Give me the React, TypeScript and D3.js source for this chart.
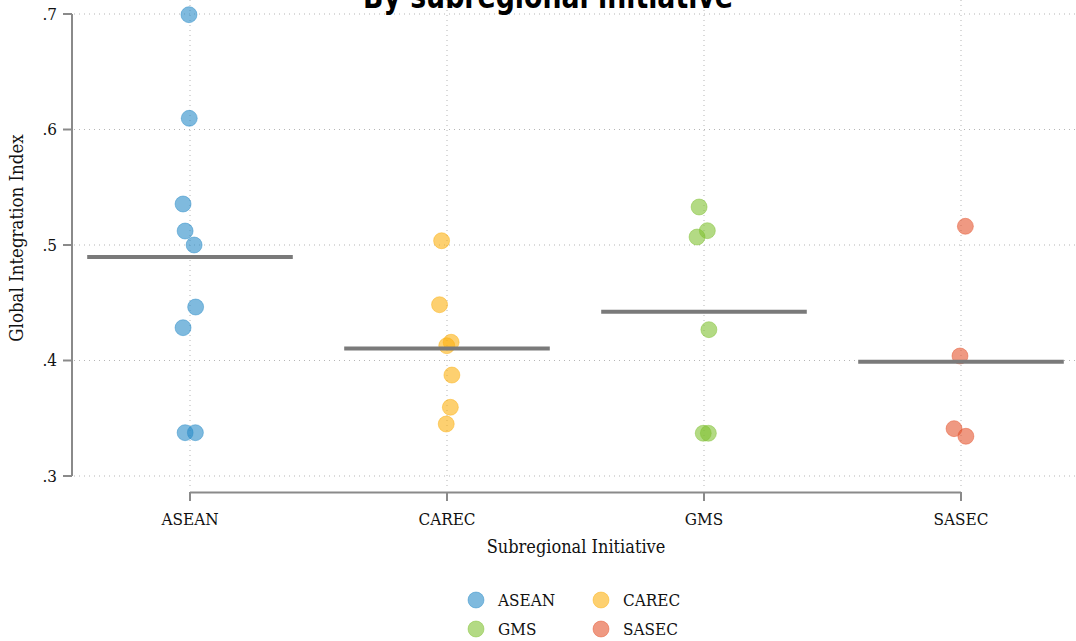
import React from "react";
import * as d3 from "d3";

const categories = ["ASEAN", "CAREC", "GMS", "SASEC"];
const colors = ["#2a8cc8", "#fbb010", "#80c232", "#e4552e"];

const aseanValues = [0.6994, 0.6097, 0.5355, 0.5121, 0.5, 0.4463, 0.4284, 0.3375, 0.3375];
const aseanJitter = [-0.004, -0.003, -0.027, -0.019, 0.016, 0.022, -0.027, -0.019, 0.021];
const carecValues = [0.5037, 0.4483, 0.4158, 0.4128, 0.3874, 0.3595, 0.345];
const carecJitter = [-0.021, -0.029, 0.016, -0.001, 0.019, 0.013, -0.003];
const gmsValues = [0.5329, 0.5124, 0.5069, 0.4267, 0.337, 0.337];
const gmsJitter = [-0.019, 0.013, -0.027, 0.019, -0.003, 0.017];
const sasecValues = [0.5162, 0.4039, 0.341, 0.3344];
const sasecJitter = [0.017, -0.004, -0.027, 0.019];

const yTicks = [0.3, 0.4, 0.5, 0.6, 0.7];

const seriesValues = [aseanValues, carecValues, gmsValues, sasecValues];
const seriesJitter = [aseanJitter, carecJitter, gmsJitter, sasecJitter];

const W = 1076;
const H = 641;
const serif = "'DejaVu Serif Condensed', 'DejaVu Serif', serif";

export default function App() {
  const x = d3.scalePoint<string>().domain(categories).range([190, 961]).padding(0);
  const step = x.step();
  const y = d3.scaleLinear().domain([0.3, 0.7]).range([476, 14]);
  const plotLeft = 72;
  const fmt = (v: number) => d3.format(".1f")(v).replace(/^0/, "");

  const legendPos = [
    { cx: 476, cy: 600 },
    { cx: 601, cy: 600 },
    { cx: 476, cy: 629 },
    { cx: 601, cy: 629 },
  ];

  return (
    <svg
      width={W}
      height={H}
      style={{ position: "absolute", left: 0, top: 0, background: "#fff" }}
      fontFamily={serif}
    >
      {/* horizontal grid */}
      {yTicks.map((t) => (
        <line
          key={"hg" + t}
          x1={plotLeft + 2}
          x2={W}
          y1={y(t)}
          y2={y(t)}
          stroke="#b5b5b5"
          strokeWidth={1}
          strokeDasharray="1 4"
        />
      ))}
      {/* vertical grid */}
      {categories.map((c) => (
        <line
          key={"vg" + c}
          x1={x(c)}
          x2={x(c)}
          y1={0}
          y2={488}
          stroke="#b5b5b5"
          strokeWidth={1}
          strokeDasharray="1 4"
        />
      ))}
      {/* y axis */}
      <line x1={plotLeft} x2={plotLeft} y1={y(0.7)} y2={y(0.3)} stroke="#8a8a8a" strokeWidth={2} />
      {yTicks.map((t) => (
        <g key={"yt" + t}>
          <line x1={63} x2={plotLeft} y1={y(t)} y2={y(t)} stroke="#8a8a8a" strokeWidth={2} />
          <text x={57} y={y(t)} dy="0.35em" textAnchor="end" fontSize={17} fill="#111">
            {fmt(t)}
          </text>
        </g>
      ))}
      <text
        transform={`translate(23,238) rotate(-90)`}
        textAnchor="middle"
        fontSize={18.5}
        fill="#111"
      >
        Global Integration Index
      </text>
      {/* x axis */}
      <line x1={x(categories[0])} x2={x(categories[3])} y1={492.5} y2={492.5} stroke="#8a8a8a" strokeWidth={2} />
      {categories.map((c) => (
        <g key={"xt" + c}>
          <line x1={x(c)} x2={x(c)} y1={492} y2={501} stroke="#8a8a8a" strokeWidth={2} />
          <text x={x(c)} y={525} textAnchor="middle" fontSize={17} fill="#111">
            {c}
          </text>
        </g>
      ))}
      <text x={576} y={553} textAnchor="middle" fontSize={18} fill="#111">
        Subregional Initiative
      </text>
      {/* points */}
      {categories.map((c, i) =>
        seriesValues[i].map((v, j) => (
          <circle
            key={c + j}
            cx={(x(c) as number) + seriesJitter[i][j] * step}
            cy={y(v)}
            r={8}
            fill={colors[i]}
            fillOpacity={0.6}
            stroke={colors[i]}
            strokeOpacity={0.45}
            strokeWidth={1}
          />
        ))
      )}
      {/* mean lines */}
      {categories.map((c, i) => {
        const m = d3.mean(seriesValues[i]) as number;
        const cx = x(c) as number;
        return (
          <line
            key={"m" + c}
            x1={cx - 0.4 * step}
            x2={cx + 0.4 * step}
            y1={y(m)}
            y2={y(m)}
            stroke="#7a7a7a"
            strokeWidth={4}
          />
        );
      })}
      {/* title */}
      <text
        x={548}
        y={8}
        textAnchor="middle"
        fontFamily="'DejaVu Sans', sans-serif"
        fontWeight="bold"
        fontSize={34}
        textLength={370}
        lengthAdjust="spacingAndGlyphs"
        fill="#000"
      >
        By subregional initiative
      </text>
      {/* legend */}
      {categories.map((c, i) => (
        <g key={"lg" + c}>
          <circle
            cx={legendPos[i].cx}
            cy={legendPos[i].cy}
            r={8}
            fill={colors[i]}
            fillOpacity={0.6}
            stroke={colors[i]}
            strokeOpacity={0.45}
          />
          <text x={legendPos[i].cx + 22} y={legendPos[i].cy} dy="0.35em" fontSize={17} fill="#111">
            {c}
          </text>
        </g>
      ))}
    </svg>
  );
}
